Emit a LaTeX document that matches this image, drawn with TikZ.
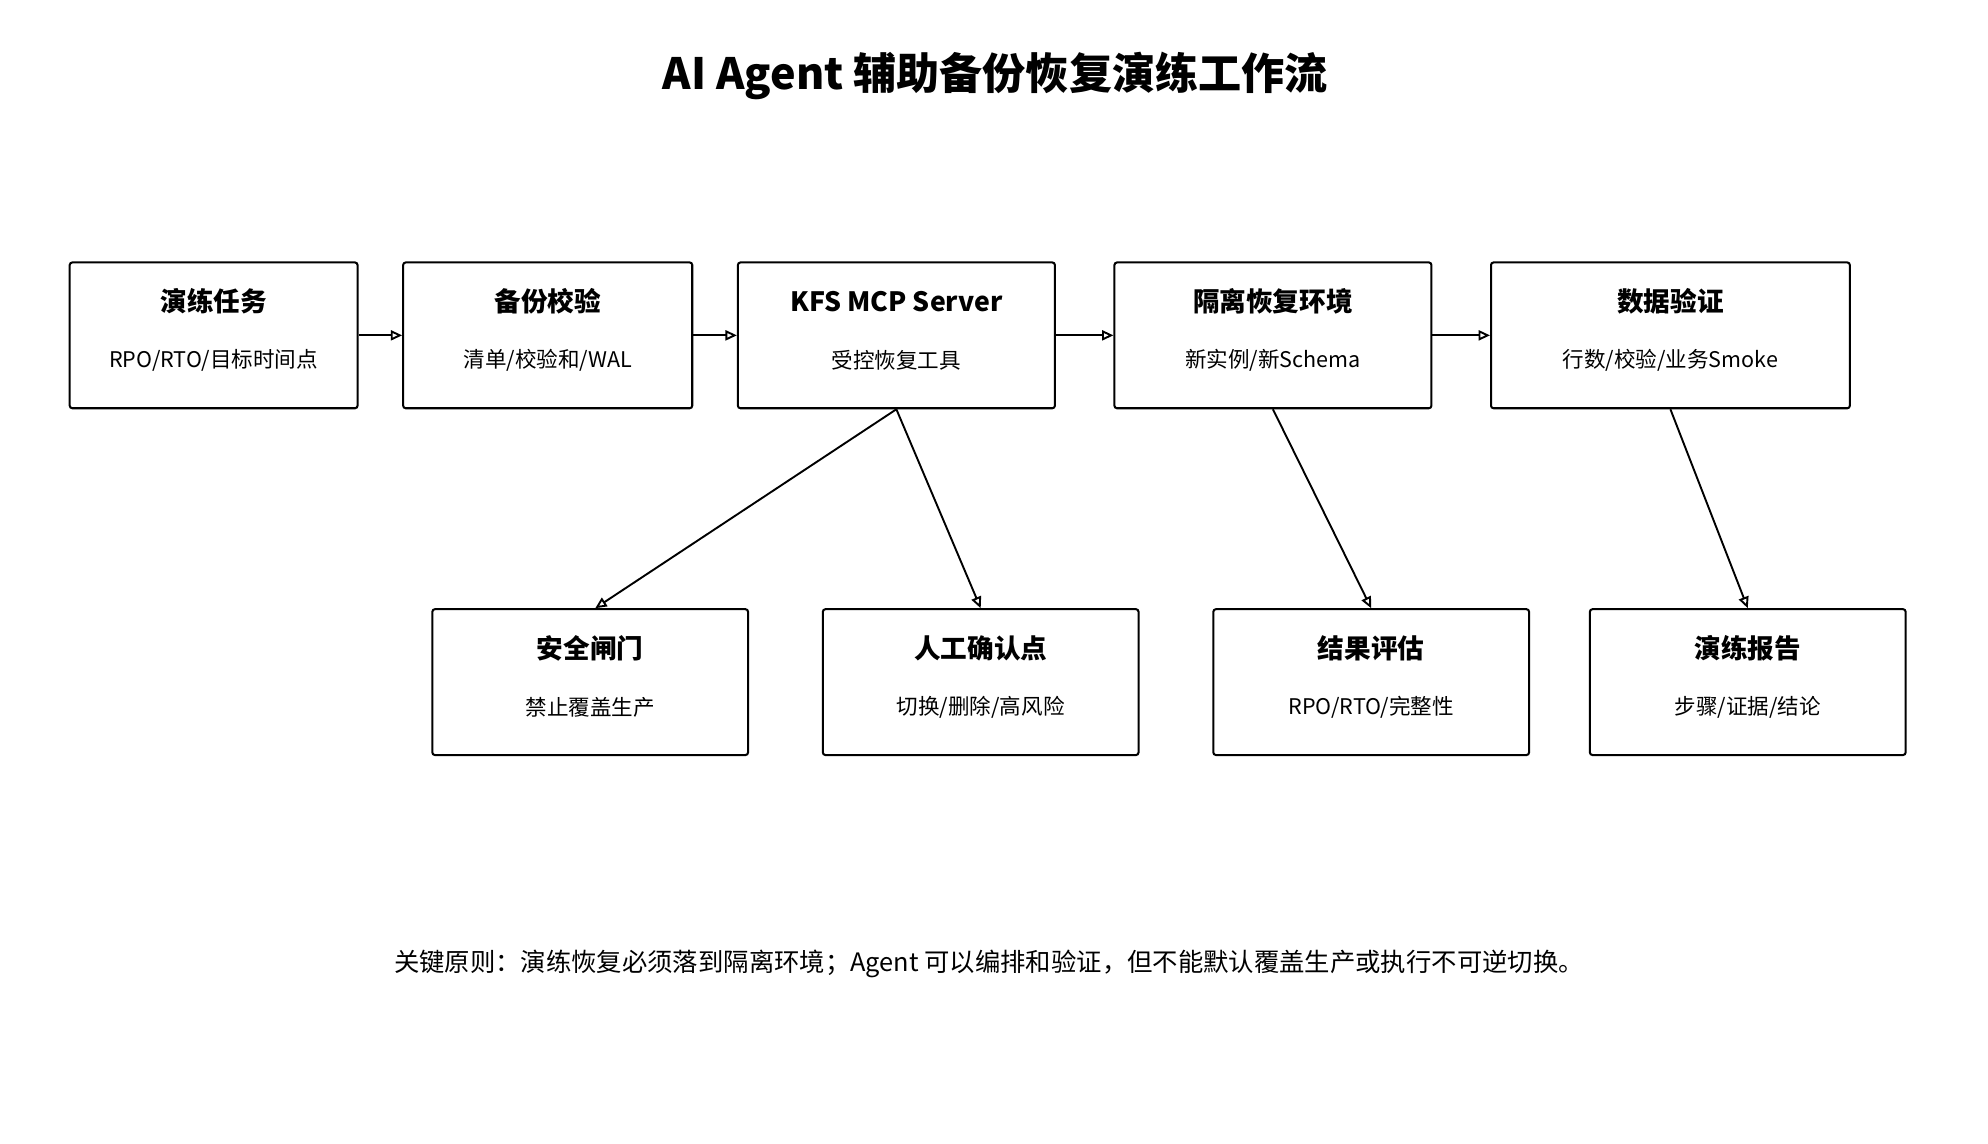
\documentclass[tikz,border=0pt]{standalone}
\usepackage{fontspec}
\setmainfont{Noto Sans CJK SC}
\usetikzlibrary{arrows.meta}
\begin{document}
\begin{tikzpicture}[x=1pt,y=-1pt,
  box/.style={draw,line width=1.6pt,rounded corners=2pt,minimum height=115pt,inner sep=0pt},
  ttl/.style={font=\fontsize{21}{24}\selectfont\bfseries},
  sub/.style={font=\fontsize{17}{20}\selectfont},
  arr/.style={-{Stealth[length=9pt,width=8pt,inset=0pt,open]},line width=1.5pt,shorten >=0pt}]
\useasboundingbox (0,0) rectangle (1568,902);
\node[font=\fontsize{34}{40}\selectfont\bfseries] (title) at (785,60) {AI Agent 辅助备份恢复演练工作流};
\newcommand\mkbox[6]{%
  \node[box,minimum width=#3pt] (#1) at (#2,#4) {};
  \node[ttl] (#1t) at (#2,#4-27) {#5};
  \node[sub] (#1s) at (#2,#4+20) {#6};}
\mkbox{b1}{168.5}{227}{264.5}{演练任务}{RPO/RTO/目标时间点}
\mkbox{b2}{432}{228}{264.5}{备份校验}{清单/校验和/WAL}
\mkbox{b3}{707}{250}{264.5}{KFS MCP Server}{受控恢复工具}
\mkbox{b4}{1004}{250}{264.5}{隔离恢复环境}{新实例/新Schema}
\mkbox{b5}{1317.5}{283}{264.5}{数据验证}{行数/校验/业务Smoke}
\mkbox{b6}{465.5}{249}{538}{安全闸门}{禁止覆盖生产}
\mkbox{b7}{773.5}{249}{538}{人工确认点}{切换/删除/高风险}
\mkbox{b8}{1081.5}{249}{538}{结果评估}{RPO/RTO/完整性}
\mkbox{b9}{1378.5}{249}{538}{演练报告}{步骤/证据/结论}
\draw[arr] (b1) -- (b2);
\draw[arr] (b2) -- (b3);
\draw[arr] (b3) -- (b4);
\draw[arr] (b4) -- (b5);
\draw[arr] (b3.south) -- ([xshift=4pt]b6.north);
\draw[arr] (b3.south) -- (b7.north);
\draw[arr] (b4.south) -- (b8.north);
\draw[arr] (b5.south) -- (b9.north);
\node[font=\fontsize{20}{24}\selectfont] (note) at (780,760) {关键原则：演练恢复必须落到隔离环境；Agent 可以编排和验证，但不能默认覆盖生产或执行不可逆切换。};
\end{tikzpicture}
\end{document}
